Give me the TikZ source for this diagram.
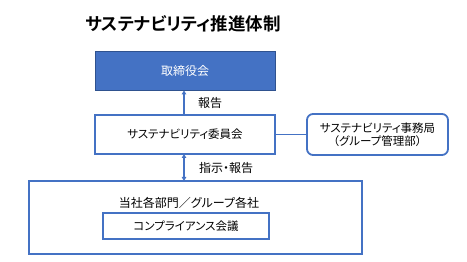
\documentclass[tikz,border=0pt]{standalone}
\usepackage{fontspec}
\setmainfont{Noto Sans CJK JP}[RawFeature=+palt]
\newfontfamily\jpbold{Noto Sans CJK JP Bold}[RawFeature=+palt]
\usetikzlibrary{arrows.meta}
\definecolor{ofblue}{HTML}{4472C4}
\definecolor{ofdark}{HTML}{2F528F}
\tikzset{
  box/.style={draw=ofblue, line width=1.8pt, fill=white, inner sep=0pt},
  lbl/.style={font=\fontsize{12}{14}\selectfont, inner sep=0pt, anchor=west},
  conn/.style={draw=ofblue, line width=1.5pt},
  tip/.style={-{Triangle[length=4pt,width=4.5pt]}},
  tips/.style={{Triangle[length=4pt,width=4.5pt]}-{Triangle[length=4pt,width=4.5pt]}},
}
\begin{document}
\begin{tikzpicture}[x=1pt,y=-1pt]
\useasboundingbox (0,0) rectangle (467,262);
\node[font=\jpbold\fontsize{17.5}{19}\selectfont, inner sep=0pt] (title) at (183,24) {サステナビリティ推進体制};
\node[draw=ofdark, line width=0.8pt, fill=ofblue, minimum width=180pt, minimum height=39pt, inner sep=0pt, text=white, font=\fontsize{12}{14}\selectfont] (board) at (185,70.5) {取締役会};
\node[box, minimum width=180pt, minimum height=39pt, font=\fontsize{11.5}{13}\selectfont] (comm) at (185,134.5) {サステナビリティ委員会};
\node[box, rounded corners=6pt, minimum width=141pt, minimum height=41pt, align=center, font=\fontsize{11.5}{12.5}\selectfont] (sec) at (377.5,134.5) {サステナビリティ事務局\\（グループ管理部）};
\node[box, minimum width=333pt, minimum height=73pt] (dept) at (195.5,217.5) {};
\node[font=\fontsize{12}{14}\selectfont, inner sep=0pt] (depttext) at (189,203) {当社各部門／グループ各社};
\node[box, minimum width=166pt, minimum height=26pt, font=\fontsize{11.5}{13}\selectfont] (conf) at (186,226) {コンプライアンス会議};
\draw[conn, tip] (comm.north -| board.south) ++(-1,0) coordinate (a1) -- (a1 |- board.south);
\node[lbl] (rep) at (198,103) {報告};
\draw[conn] (comm.east) -- (sec.west);
\coordinate (b1) at (184,154);
\coordinate (b2) at (184,181);
\draw[conn, tips] (b1) -- (b2);
\node[lbl] (inst) at (199,168) {指示・報告};
\end{tikzpicture}
\end{document}
